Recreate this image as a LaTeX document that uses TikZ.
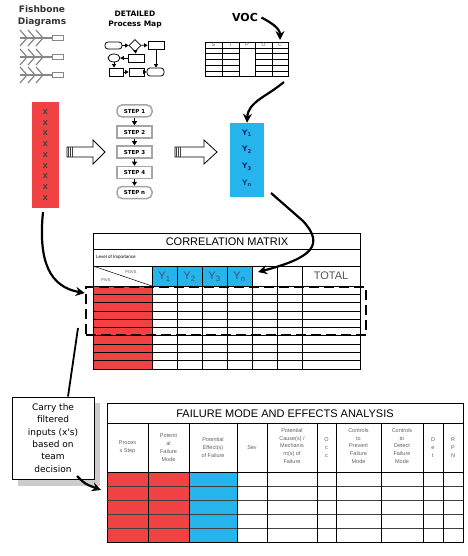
\documentclass[tikz,border=0pt]{standalone}
\usepackage{fontspec}
\setmainfont{Liberation Sans}
\newfontfamily\verd{DejaVu Sans}
\usetikzlibrary{positioning,arrows.meta,shapes.geometric,calc}
\definecolor{xred}{RGB}{240,66,66}
\definecolor{yblue}{RGB}{38,180,236}
\definecolor{bonegray}{RGB}{135,135,135}
\definecolor{ynavy}{RGB}{20,40,110}
\definecolor{ysub}{RGB}{60,80,120}

\begin{document}
\begin{tikzpicture}[x=1pt,y=-1pt,
  bigarrow/.style={-{Stealth[length=9pt,width=9pt]},line width=2.2pt},
  maparrow/.style={-{Triangle[length=3.5pt,width=4pt]},line width=0.7pt},
  mapbox/.style={draw,line width=0.8pt,inner sep=0pt},
  stepbox/.style={draw=gray!70,line width=1.5pt,fill=white,minimum width=35pt,minimum height=12pt,inner sep=0pt,font=\verd\bfseries\fontsize{5.5}{6}\selectfont},
  steparrow/.style={-{Triangle[length=4pt,width=5pt]},line width=1.3pt},
  hollow/.style={draw,line width=0.8pt,fill=white},
  grid/.style={line width=0.7pt},
  bodygrid/.style={line width=1.1pt,gray!50!black},
  hdtext/.style={font=\fontsize{5.5}{7.8}\selectfont,text=gray!75!black,align=center,inner sep=0pt},
  ytext/.style={font=\fontsize{11}{12}\selectfont,text=ysub}
]
\useasboundingbox (0,0) rectangle (467,556);

% Fishbone icons
\node[font=\verd\bfseries\fontsize{9}{12}\selectfont,align=center,text=black!80] (fishlbl) at (42,16) {Fishbone\\Diagrams};
\foreach \r [count=\i] in {38,57,75} {
  \node[draw=bonegray,line width=1pt,minimum width=11pt,minimum height=5pt,inner sep=0pt] (fbbox\i) at (58,\r) {};
  \draw[bonegray,line width=1.2pt] (20,\r) -- (fbbox\i.west);
  \foreach \b in {27,35,43}
    \draw[bonegray,line width=1.2pt] (\b-7,\r-8) -- (\b,\r) -- (\b-7,\r+8);
}

% Detailed process map
\node[font=\verd\bfseries\fontsize{7.5}{10}\selectfont,align=center] (maplbl) at (135,20) {DETAILED\\Process Map};
\node[mapbox,rounded corners=3pt,minimum width=17pt,minimum height=7pt] (pmt1) at (113.5,45.5) {};
\node[mapbox,diamond,aspect=1,minimum width=12pt,minimum height=12pt] (pmd1) at (135,45.5) {};
\node[mapbox,minimum width=16pt,minimum height=8pt] (pmr1) at (156,45) {};
\node[mapbox,ellipse,minimum width=12pt,minimum height=8pt] (pme1) at (114,58) {};
\node[mapbox,minimum width=16pt,minimum height=8pt] (pmr2) at (136,58) {};
\node[mapbox,minimum width=14pt,minimum height=8pt] (pmr3) at (116,72) {};
\node[mapbox,minimum width=15pt,minimum height=8pt] (pmr4) at (136.5,72) {};
\node[mapbox,rounded corners=3pt,minimum width=17pt,minimum height=8pt] (pmt2) at (155.5,72) {};
\draw[maparrow] (pmt1) -- (pmd1);
\draw[maparrow] (pmd1) -- (pmr1);
\draw[maparrow] (pmd1) -- (pmr2);
\draw[maparrow] (pmr2) -- (pme1);
\draw[maparrow] (pme1.south) -- (pmr3.north -| pme1.south);
\draw[maparrow] (pmr3) -- (pmr4);
\draw[maparrow] (pmr4) -- (pmt2);
\draw[maparrow] (pmr1) -- (pmt2.north -| pmr1.south);

% VOC and SIPOC
\node[font=\verd\bfseries\fontsize{11}{12}\selectfont] (voc) at (245,17.5) {VOC};
\draw[grid] (205,42) rectangle (288,76);
\draw[grid] (205,48) -- (288,48);
\foreach \c in {222,239,255,272} \draw[grid] (\c,42) -- (\c,76);
\foreach \r in {53,59,65,71} {
  \draw[grid] (205,\r) -- (239,\r);
  \draw[grid] (255,\r) -- (288,\r);
}
\foreach \l/\c in {S/213.5,I/230.5,P/247,O/263.5,C/280}
  \node[font=\fontsize{5}{5}\selectfont,text=gray!70!black,inner sep=0pt] (sipoc\l) at (\c,45) {\l};
\coordinate (vocend) at (280,40);
\draw[bigarrow] (voc.east) .. controls (270,22) and (280,28) .. (vocend);

% Inputs, steps, outputs
\node[fill=xred,minimum width=27pt,minimum height=106pt,inner sep=0pt] (xcol) at (45.5,155) {};
\foreach \i in {0,...,8}
  \node[font=\verd\bfseries\fontsize{6.5}{7}\selectfont,text=black!75,inner sep=0pt] (x\i) at (45.5,112+\i*10.75) {X};

\draw[hollow] (67,147) -- (93,147) -- (93,140) -- (105,152) -- (93,164) -- (93,157) -- (67,157) -- cycle;
\foreach \h in {68,70,72} \draw[gray!50!black,line width=0.7pt] (\h,147) -- (\h,157);

\node[stepbox,rounded corners=5pt] (step1) at (134.5,111) {STEP 1};
\node[stepbox] (step2) at (134.5,132) {STEP 2};
\node[stepbox] (step3) at (134.5,152) {STEP 3};
\node[stepbox] (step4) at (134.5,172.5) {STEP 4};
\node[stepbox,rounded corners=5pt] (stepn) at (134.5,192.5) {STEP n};
\foreach \a/\b in {step1/step2,step2/step3,step3/step4,step4/stepn}
  \draw[steparrow] (\a.south) -- (\b.north);

\draw[hollow] (175,147) -- (204,147) -- (204,140) -- (217,152) -- (204,164) -- (204,157) -- (175,157) -- cycle;
\foreach \h in {176,178,180} \draw[gray!50!black,line width=0.7pt] (\h,147) -- (\h,157);

\node[fill=yblue,minimum width=34pt,minimum height=74pt,inner sep=0pt] (ycol) at (247,160) {};
\foreach \t/\y in {1/133,2/150,3/167}
  \node[font=\verd\bfseries\fontsize{7.5}{8}\selectfont,text=ynavy,inner sep=0pt] (ybox\t) at (247,\y) {Y\textsubscript{\t}};
\node[font=\verd\bfseries\fontsize{7.5}{8}\selectfont,text=ynavy!60!teal,inner sep=0pt] (yboxn) at (247,183) {Y\textsubscript{n}};

\coordinate (sipocout) at (284,82);
\draw[bigarrow] (sipocout) .. controls (266,97) and (248,102) .. (ycol.north);

% Correlation matrix
\fill[xred] (93,286) rectangle (152,369);
\fill[yblue] (152,266) rectangle (252,286);
\draw[grid] (93,233) rectangle (360,369);
\foreach \r in {249,266} \draw[grid] (93,\r) -- (360,\r);
\foreach \k in {0,...,9} \draw[grid] (93,286+\k*8.3) -- (360,286+\k*8.3);
\foreach \c in {152,177,202,227,252,277,302} \draw[grid] (\c,266) -- (\c,369);
\draw[line width=0.5pt] (93,266) -- (152,286);
\node[font=\fontsize{11}{12}\selectfont] (cmtitle) at (227,241.5) {CORRELATION MATRIX};
\node[font=\fontsize{4.5}{5}\selectfont,anchor=west,inner sep=0pt] (importance) at (96,257.5) {Level of Importance};
\node[font=\fontsize{4}{5}\selectfont,text=gray!60!black,inner sep=0pt] (povs) at (131,272) {POVS};
\node[font=\fontsize{4}{5}\selectfont,text=gray!60!black,inner sep=0pt] (pivs) at (106,280) {PIVS};
\foreach \t/\c in {1/164.5,2/189.5,3/214.5,n/239.5}
  \node[ytext] (cmy\t) at (\c,277) {Y\textsubscript{\t}};
\node[font=\fontsize{11}{12}\selectfont,text=gray!65!black] (total) at (331,276) {TOTAL};
\node[draw,line width=2.5pt,dash pattern=on 10pt off 5pt,minimum width=280pt,minimum height=48pt,inner sep=0pt] (focus) at (226,311) {};

\coordinate (ystart) at (271,193);
\coordinate (ybend) at (303,221);
\coordinate (cmarrow) at (258,272);
\draw[bigarrow] (ystart) -- (ybend) .. controls (325,245) and (312,258) .. (cmarrow);

\coordinate (xstart) at (43,212);
\draw[bigarrow] (xstart) .. controls (38,262) and (50,287) .. (focus.west |- 0,293);

% Callout
\fill[gray!40] (18,403) rectangle (100,486);
\node[draw,fill=white,line width=0.9pt,minimum width=82pt,minimum height=82pt,inner sep=0pt,
  font=\verd\fontsize{9}{12.3}\selectfont,align=center] (callout) at (53,438)
  {Carry the\\filtered\\inputs (x's)\\based on\\team\\decision};
\coordinate (calltop) at (78,328);
\draw[line width=1.8pt] (callout.north -| 68,0) -- (calltop);
\coordinate (fmeatip) at (101,490);
\draw[bigarrow] (77,476) .. controls (85,484) .. (fmeatip);

% FMEA table
\fill[xred] (107,472.5) rectangle (189,542);
\fill[yblue] (189,472.5) rectangle (237,542);
\draw[grid] (107,403) rectangle (463,542);
\draw[grid] (107,423) -- (463,423);
\draw[grid] (107,472.5) -- (463,472.5);
\foreach \k in {1,...,4} \draw[bodygrid] (107,472.5+\k*13.9) -- (463,472.5+\k*13.9);
\foreach \c in {148,189,237,267,317,336,381,423,443} \draw[grid] (\c,423) -- (\c,542);
\node[font=\fontsize{11}{12}\selectfont] (fmeatitle) at (285,413.5) {FAILURE MODE AND EFFECTS ANALYSIS};
\node[hdtext] (hstep) at (127.5,447.5) {Proces\\s Step};
\node[hdtext] (hmode) at (168.5,447.5) {Potenti\\al\\Failure\\Mode};
\node[hdtext] (heffect) at (213,447.5) {Potential\\Effect(s)\\of Failure};
\node[hdtext] (hsev) at (252,447.5) {Sev};
\node[hdtext] (hcause) at (292,446) {Potential\\Cause(s) /\\Mechanis\\m(s) of\\Failure};
\node[hdtext] (hocc) at (326.5,447.5) {O\\c\\c};
\node[hdtext] (hprev) at (358.5,446) {Controls\\to\\Prevent\\Failure\\Mode};
\node[hdtext] (hdet) at (402,446) {Controls\\to\\Detect\\Failure\\Mode};
\node[hdtext] (hdt) at (433,447.5) {D\\e\\t};
\node[hdtext] (hrpn) at (453,447.5) {R\\P\\N};
\end{tikzpicture}
\end{document}
